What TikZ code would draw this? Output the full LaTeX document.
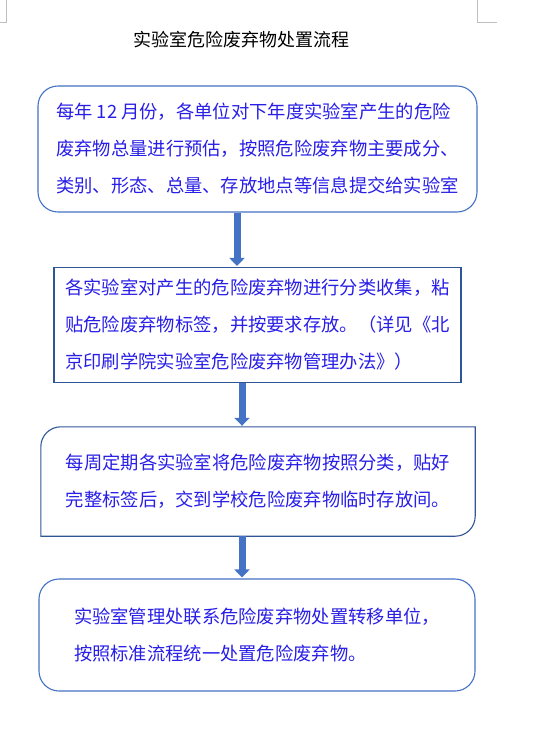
\documentclass[tikz,border=0pt]{standalone}
\usepackage{fontspec}
\setmainfont{Noto Sans CJK SC}
\usetikzlibrary{arrows.meta,calc}
\definecolor{lineblue}{HTML}{4472C4}
\definecolor{darkblue}{HTML}{2F5597}
\definecolor{txtblue}{RGB}{40,30,230}
\definecolor{markgray}{HTML}{BFBFBF}
\tikzset{
  boxtext/.style={inner sep=0pt, align=left, text=txtblue, font=\fontsize{18.3}{37}\selectfont},
  roundbox/.style={boxtext, draw=lineblue, line width=1.1pt, rounded corners=20pt},
  rectbox/.style={boxtext, draw=darkblue, line width=1.1pt},
  plainbox/.style={boxtext},
  flowarrow/.style={draw=lineblue, line width=7pt, -{Triangle[length=8pt,width=15pt]}, shorten >=1pt},
  cornermark/.style={draw=markgray, line width=0.8pt}
}
\begin{document}
\begin{tikzpicture}[x=1pt,y=1pt]
\useasboundingbox (0,0) rectangle (534,-739);
% corner marks
\coordinate (tl1) at (6.5,0);
\coordinate (tl2) at (6.5,-22);
\coordinate (tl3) at (0,-22);
\draw[cornermark] (tl1) -- (tl2) -- (tl3);
\coordinate (tr1) at (477,0);
\coordinate (tr2) at (477,-22);
\coordinate (tr3) at (497,-22);
\draw[cornermark] (tr1) -- (tr2) -- (tr3);
% title
\node[font=\fontsize{18}{20}\selectfont, text=black] (title) at (241,-40) {实验室危险废弃物处置流程};
% boxes
\node[roundbox, minimum width=439pt, minimum height=126pt] (b1) at (257.5,-149) {每年 12 月份，各单位对下年度实验室产生的危险\\废弃物总量进行预估，按照危险废弃物主要成分、\\类别、形态、总量、存放地点等信息提交给实验室};
\node[rectbox, minimum width=407pt, minimum height=115pt] (b2) at (257.5,-325) {各实验室对产生的危险废弃物进行分类收集，粘\\贴危险废弃物标签，并按要求存放。（详见《北\\京印刷学院实验室危险废弃物管理办法》）};
\node[plainbox, minimum width=434pt, minimum height=109pt] (b3) at (258,-481.5) {每周定期各实验室将危险废弃物按照分类，贴好\\完整标签后，交到学校危险废弃物临时存放间。};
\draw[darkblue, line width=1.1pt]
  ([xshift=20pt]b3.north west) -- (b3.north east) -- ([yshift=20pt]b3.south east)
  arc[start angle=0, end angle=-90, radius=20pt] -- (b3.south west) -- ([yshift=-20pt]b3.north west)
  arc[start angle=180, end angle=90, radius=20pt] -- cycle;
\node[roundbox, minimum width=436pt, minimum height=112pt] (b4) at (257,-635) {实验室管理处联系危险废弃物处置转移单位，\\按照标准流程统一处置危险废弃物。};
% arrows
\coordinate (ax1) at (237,0);
\coordinate (ax2) at (242,0);
\coordinate (ax3) at (242,0);
\draw[flowarrow] (b1.south -| ax1) -- (b2.north -| ax1);
\draw[flowarrow] (b2.south -| ax2) -- (b3.north -| ax2);
\draw[flowarrow] (b3.south -| ax3) -- (b4.north -| ax3);
\end{tikzpicture}
\end{document}
